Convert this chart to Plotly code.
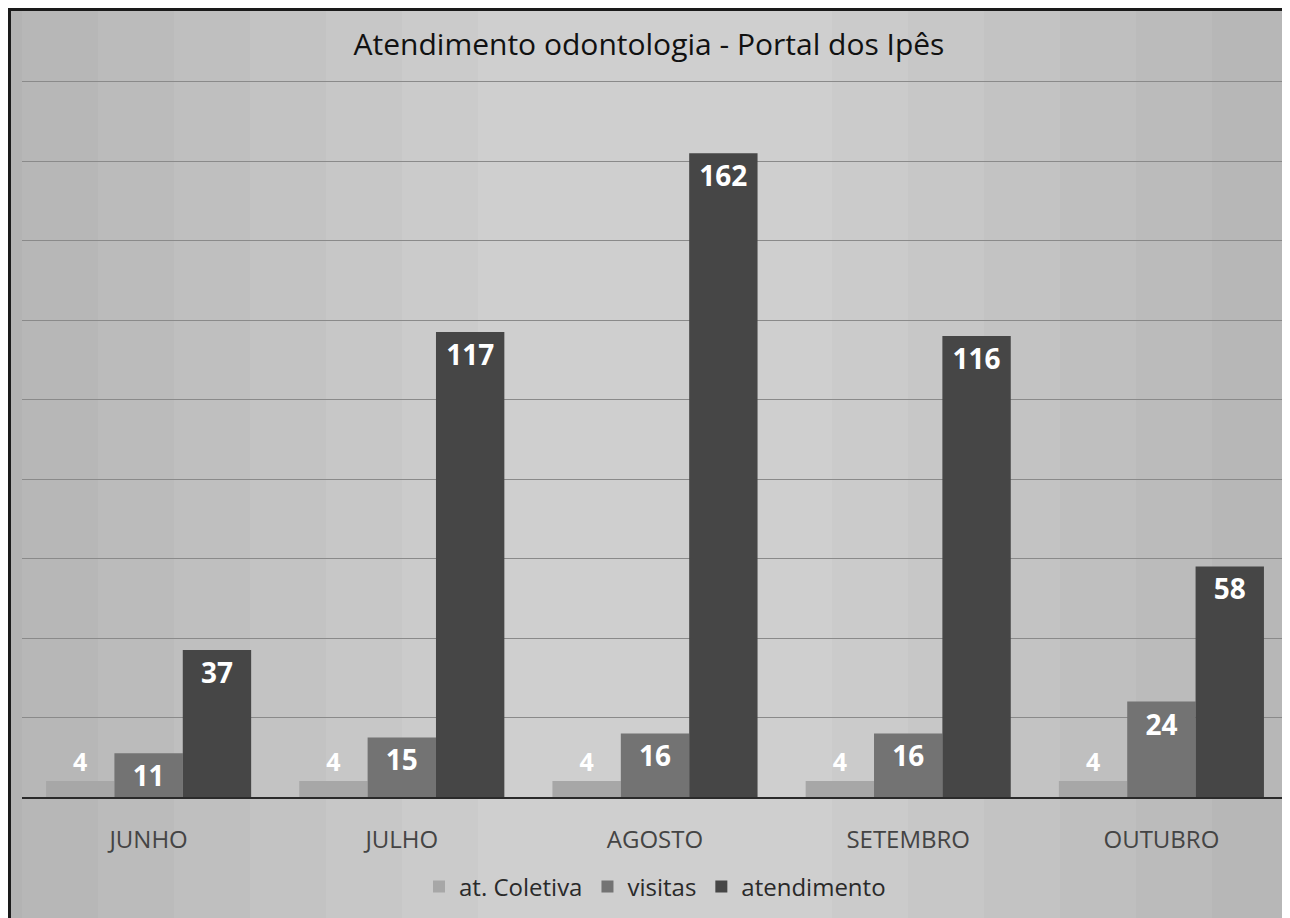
import plotly.graph_objects as go

categories = ["JUNHO", "JULHO", "AGOSTO", "SETEMBRO", "OUTUBRO"]
at_coletiva = [4, 4, 4, 4, 4]
visitas = [11, 15, 16, 16, 24]
atendimento = [37, 117, 162, 116, 58]

series = [
    ("at. Coletiva", at_coletiva, "#a7a7a7", "outside"),
    ("visitas", visitas, "#737373", "inside"),
    ("atendimento", atendimento, "#464646", "inside"),
]

fig = go.Figure()
for name, vals, col, pos in series:
    fig.add_trace(go.Bar(
        x=categories, y=vals, name=name,
        marker=dict(color=col, line=dict(width=0)),
        text=[str(v) for v in vals],
        textposition=pos, insidetextanchor="end", textangle=0,
        textfont=dict(family="Noto Sans", size=28, color="white", weight="bold"),
        outsidetextfont=dict(family="Noto Sans", size=25, color="white", weight="bold"),
        cliponaxis=False,
    ))

shapes = []
# soft lighter glow in the upper centre to mimic the scanned background
for w, op in [(0.50, 0.06), (0.44, 0.06), (0.38, 0.07), (0.32, 0.07),
              (0.26, 0.08), (0.20, 0.08), (0.14, 0.08)]:
    shapes.append(dict(type="rect", xref="paper", yref="paper",
                       x0=0.5 - w, x1=0.5 + w, y0=-0.2, y1=1.11,
                       fillcolor="white", opacity=op, line=dict(width=0), layer="below"))
# dark scan borders
shapes.append(dict(type="rect", xref="paper", yref="paper", x0=-0.0115, x1=-0.0087,
                   y0=-0.2, y1=1.11, fillcolor="#1a1a1a", line=dict(width=0), layer="above"))
shapes.append(dict(type="rect", xref="paper", yref="paper", x0=-0.0115, x1=1.01,
                   y0=1.0962, y1=1.11, fillcolor="#1a1a1a", line=dict(width=0), layer="above"))

fig.update_layout(
    width=1282, height=910,
    margin=dict(l=14, r=2, t=72, b=121),
    paper_bgcolor="#b3b3b3",
    plot_bgcolor="rgba(0,0,0,0)",
    barmode="group", bargap=0.19, bargroupgap=0,
    title=dict(text="Atendimento odontologia - Portal dos Ipês",
               x=0.5, xanchor="center", y=0.960, yanchor="middle",
               font=dict(family="Open Sans", size=30, color="#111111")),
    xaxis=dict(showgrid=False, showline=True, linecolor="#2a2a2a", linewidth=2,
               ticks="", ticklabelstandoff=20,
               tickfont=dict(family="Open Sans", size=24, color="#444444")),
    yaxis=dict(range=[0, 180.4], dtick=20, showgrid=True, gridcolor="#8a8a8a", gridwidth=1,
               showticklabels=False, zeroline=False, showline=False),
    legend=dict(orientation="h", x=0.5, xanchor="center", y=-0.1255, yanchor="middle",
                font=dict(family="Open Sans", size=24, color="#2a2a2a"),
                bgcolor="rgba(0,0,0,0)", itemsizing="constant", traceorder="normal"),
    shapes=shapes,
    showlegend=True,
)

fig.write_html("out.html")
